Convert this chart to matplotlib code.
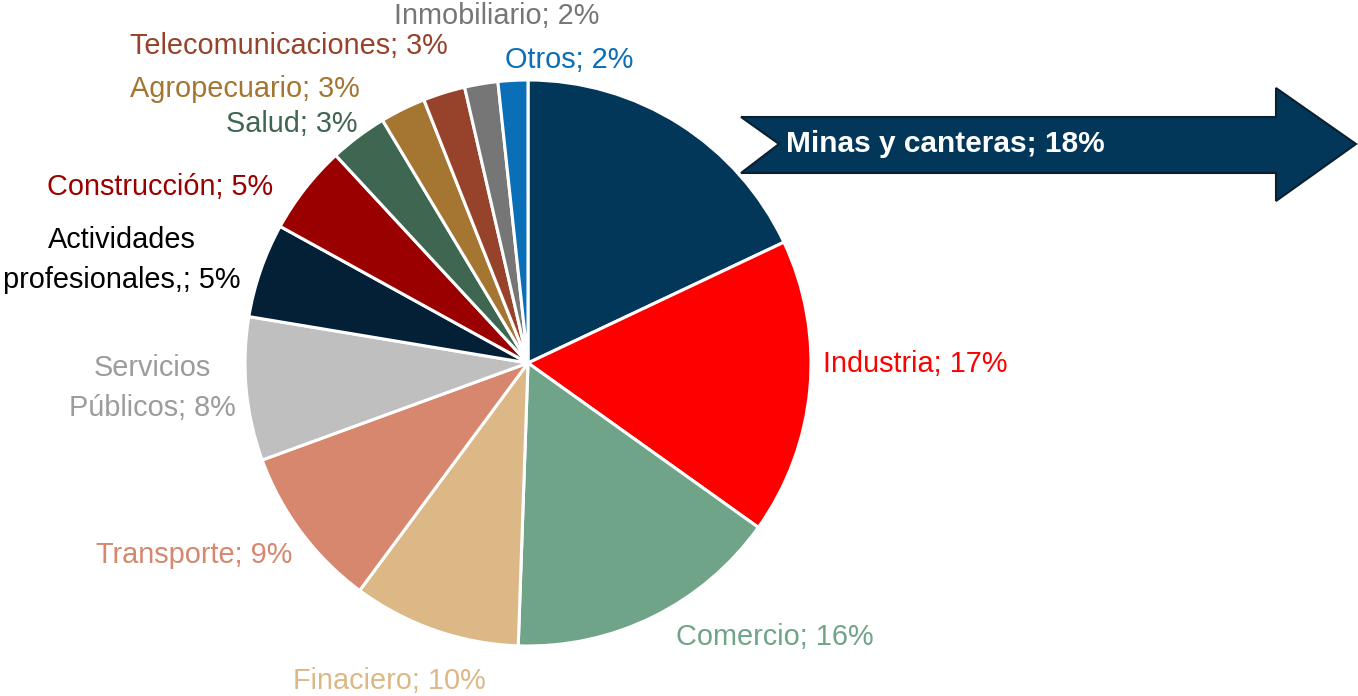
import matplotlib.pyplot as plt
from matplotlib.patches import Polygon

plt.rcParams['font.family'] = ['Liberation Sans', 'DejaVu Sans']

# sector shares (percent), clockwise from 12 o'clock
sectores = ['Minas y canteras', 'Industria', 'Comercio', 'Finaciero', 'Transporte',
            'Servicios\nPúblicos', 'Actividades\nprofesionales,', 'Construcción', 'Salud',
            'Agropecuario', 'Telecomunicaciones', 'Inmobiliario', 'Otros']
shares = [18.0, 16.9, 15.7, 9.6, 9.3, 8.2, 5.4, 5.1, 3.3, 2.6, 2.4, 1.9, 1.7]
etiquetas = ['18%', '17%', '16%', '10%', '9%', '8%', '5%', '5%', '3%', '3%', '3%', '2%', '2%']

colores = ['#03375A', '#FF0000', '#70A489', '#DCB886', '#D6876E', '#BFBFBF', '#032036',
           '#9A0000', '#3F6650', '#A47632', '#97432B', '#767676', '#0B6FB8']
col_txt = [None, '#FF0000', '#70A489', '#DCB886', '#D6876E', '#9C9C9C', '#000000',
           '#9A0000', '#3F6650', '#A47632', '#97432B', '#767676', '#0B6FB8']
# label centres in pixel coords (x, y from top)
pos_txt = [None, (915, 364), (775, 637), (389, 681), (194, 555), (152, 388), (122, 260),
           (160, 187), (292, 124), (245, 89), (289, 46), (497, 16), (569, 60)]

W, H = 1358, 696
fig = plt.figure(figsize=(W / 100, H / 100), dpi=100)
ax = fig.add_axes([0, 0, 1, 1])

ax.pie(shares, colors=colores, startangle=90, counterclock=False,
       center=(528, H - 363), radius=283,
       wedgeprops=dict(edgecolor='white', linewidth=2.2))

# pie() resets the limits, so set them afterwards
ax.set_xlim(0, W)
ax.set_ylim(0, H)
ax.set_aspect('equal')
ax.axis('off')

for i in range(1, len(sectores)):
    x, y = pos_txt[i]
    ax.text(x, H - y, sectores[i] + '; ' + etiquetas[i], color=col_txt[i],
            ha='center', va='center', fontsize=20.8, linespacing=1.58)

# block arrow for the first sector
flecha = [(741, 117), (1276, 117), (1276, 88), (1356, 144), (1276, 201),
          (1276, 173), (741, 173), (779, 144)]
ax.add_patch(Polygon([(x, H - y) for x, y in flecha], closed=True,
                     facecolor='#03375A', edgecolor='#0C1F2E', linewidth=1.5))
ax.text(786, H - 144, sectores[0] + '; ' + etiquetas[0], color='white',
        fontweight='bold', fontsize=21.5, ha='left', va='center')

fig.savefig('out.png', dpi=100)
